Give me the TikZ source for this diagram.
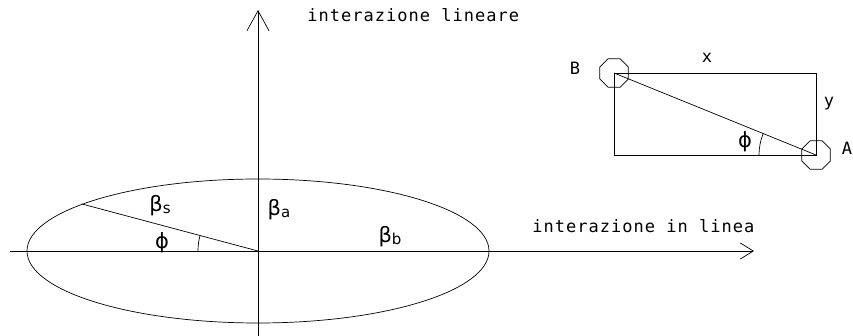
\documentclass[tikz,border=0pt]{standalone}
\usepackage{fontspec}
\setmainfont{DejaVu Sans Mono}[LetterSpace=6]
\newfontfamily\grk{DejaVu Sans}
\usetikzlibrary{arrows.meta,shapes.geometric}
\begin{document}
\begin{tikzpicture}[x=1pt,y=-1pt,line width=0.7pt,
  lbl/.style={font=\fontsize{17}{17}\selectfont, inner sep=0pt},
  gl/.style={font=\grk\fontsize{21}{21}\selectfont, inner sep=0pt},
  hinge/.style={draw, regular polygon, regular polygon sides=8, minimum size=31pt, inner sep=0pt},
  vaxarrow/.style={-{Straight Barb[length=20pt,width=22pt,line width=0.7pt]}},
  haxarrow/.style={-{Straight Barb[length=13pt,width=16pt,line width=0.7pt]}}]
\useasboundingbox (0,0) rectangle (853,336);
% main axes
\coordinate (O) at (258,251);
\coordinate (vtop) at (258,10);
\coordinate (vbot) at (258,336);
\coordinate (hl) at (10,251);
\coordinate (hr) at (754,251);
\draw[vaxarrow] (vbot) -- (vtop);
\draw[haxarrow] (hl) -- (hr);
% ellipse
\draw (O) ellipse [x radius=231pt, y radius=72pt];
\coordinate (P) at (82,204);
\draw (O) -- (P);
\draw ([shift={(180:60)}]O) arc[start angle=180, end angle=195, radius=60];
% labels
\node[gl] (bs) at (160,206) {β\raisebox{-2pt}{\fontsize{15}{15}\selectfont s}};
\node[gl] (ba) at (279,210) {β\raisebox{-2pt}{\fontsize{15}{15}\selectfont a}};
\node[gl] (bb) at (390,237) {β\raisebox{-2pt}{\fontsize{15}{15}\selectfont b}};
\node[gl] (phi1) at (162,243) {ϕ};
\node[lbl,anchor=base west] (tlin) at (532,233) {interazione in linea};
\node[lbl,anchor=base west] (tlar) at (307,22) {interazione lineare};
% small diagram
\node[hinge] (cB) at (614,73) {};
\node[hinge] (cA) at (816,155) {};
\coordinate (TR) at (816,73);
\coordinate (BL) at (614,155);
\draw (cB.center) -- (TR) -- (cA.center) -- (BL) -- cycle;
\draw (cB.center) -- (cA.center);
\draw ([shift={(180:57)}]cA.center) arc[start angle=180, end angle=202.1, radius=57];
\node[gl] (phi2) at (745,142) {ϕ};
\node[lbl] (lB) at (575,68) {B};
\node[lbl] (lx) at (707,58) {x};
\node[lbl] (ly) at (829,104) {y};
\node[lbl] (lA) at (847,148) {A};
\end{tikzpicture}
\end{document}
